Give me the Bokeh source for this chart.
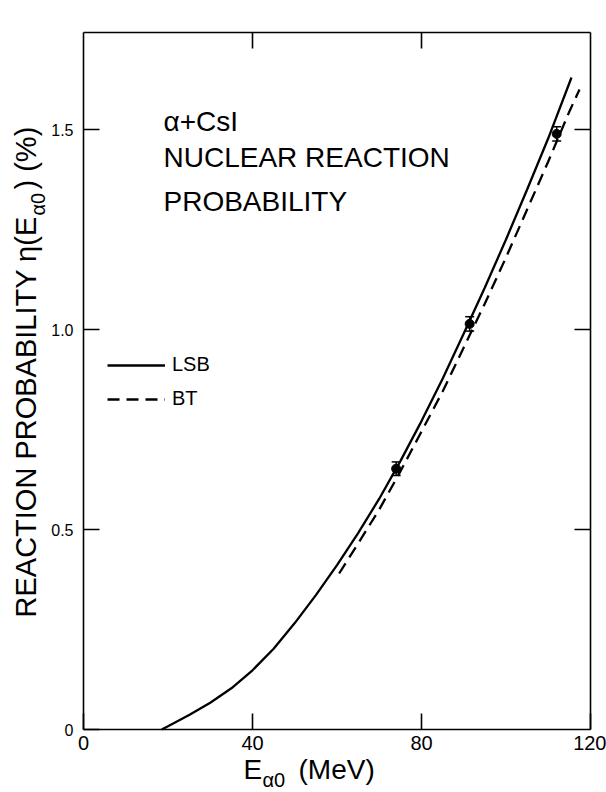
from bokeh.plotting import figure
from bokeh.models import (Range1d, LinearAxis, FixedTicker, Label, Legend, LegendItem,
                          Whisker, TeeHead, ColumnDataSource)
from bokeh.embed import file_html
from bokeh.resources import INLINE

# ---------------- data ----------------
lsb_x = [18.5, 20, 25, 30, 35, 40, 45, 50, 55, 60, 65, 70, 75, 80, 85, 90, 95, 100, 105, 110, 115.5]
lsb_y = [0.0, 0.008, 0.036, 0.067, 0.103, 0.148, 0.202, 0.266, 0.336, 0.411, 0.491, 0.577, 0.671,
         0.771, 0.877, 0.99, 1.105, 1.225, 1.35, 1.478, 1.63]
bt_x = [60.5, 65, 70, 75, 80, 85, 90, 95, 100, 105, 110, 115, 117.4]
bt_y = [0.39, 0.465, 0.55, 0.645, 0.745, 0.845, 0.955, 1.065, 1.18, 1.30, 1.42, 1.545, 1.60]
exp_x = [74.0, 91.4, 112.0]
exp_y = [0.652, 1.014, 1.489]
exp_err = [0.017, 0.018, 0.018]

x_ticks = [0, 40, 80, 120]
x_inner_ticks = [40, 80]
y_ticks = [0, 0.5, 1.0, 1.5]
y_tick_labels = ["0", "0.5", "1.0", "1.5"]
y_inner_ticks = [0.5, 1.0, 1.5]

XMAX = 120

# page geometry (px) of the plotting box; the canvas covers the whole page
W, H = 606, 792
FL, FR, FT, FB = 83, 590, 32, 729
PX_PER_X = (FR - FL) / XMAX
PX_PER_Y = 400.0
FONT = "Liberation Sans"


def dx(px):
    return (px - FL) / PX_PER_X


def dy(py):
    return (FB - py) / PX_PER_Y


YMAX = dy(FT)

p = figure(width=W, height=H, x_range=Range1d(dx(0), dx(W)), y_range=Range1d(dy(H), dy(0)),
           output_backend="svg", toolbar_location=None, x_axis_location=None,
           y_axis_location=None, min_border=0)
p.grid.visible = False
p.outline_line_color = None
p.background_fill_color = "white"
p.border_fill_color = "white"


def make_axis(ticks, loc, bounds, labels=True, size="20px", standoff=6):
    ax = LinearAxis(fixed_location=loc, bounds=bounds)
    ax.ticker = FixedTicker(ticks=ticks)
    ax.axis_line_color = "black"
    ax.axis_line_width = 1.6
    ax.major_tick_line_color = "black"
    ax.major_tick_line_width = 1.6
    ax.major_tick_in = 16
    ax.major_tick_out = 0
    ax.minor_tick_line_color = None
    ax.major_label_text_font = FONT
    ax.major_label_text_font_size = size
    ax.major_label_standoff = standoff
    ax.major_label_text_color = "black" if labels else None
    return ax


bottom = make_axis(x_ticks, 0, (0, XMAX), True, "20px", 6)
p.add_layout(bottom, "below")

top = make_axis(x_inner_ticks, YMAX, (0, XMAX), False)
p.add_layout(top, "above")

left = make_axis(y_ticks, 0, (0, YMAX), True, "16px", 10)
left.major_label_overrides = {t: s for t, s in zip(y_ticks, y_tick_labels)}
p.add_layout(left, "left")

right = make_axis(y_inner_ticks, XMAX, (0, YMAX), False)
p.add_layout(right, "right")

# curves
r_lsb = p.line(lsb_x, lsb_y, line_color="black", line_width=2.3)
r_bt = p.line(bt_x, bt_y, line_color="black", line_width=2.3, line_dash="12 7")

# experimental points with error bars
src = ColumnDataSource(data=dict(
    x=exp_x, y=exp_y,
    lower=[v - e for v, e in zip(exp_y, exp_err)],
    upper=[v + e for v, e in zip(exp_y, exp_err)]))
p.add_layout(Whisker(base="x", lower="lower", upper="upper", source=src,
                     line_color="black", line_width=1.5,
                     upper_head=TeeHead(size=9, line_width=1.5, line_color="black"),
                     lower_head=TeeHead(size=9, line_width=1.5, line_color="black")))
p.scatter("x", "y", source=src, size=9, color="black")

# legend
legend = Legend(items=[LegendItem(label="LSB", renderers=[r_lsb]),
                       LegendItem(label="BT", renderers=[r_bt])],
                location=(107, H - 410), padding=0, margin=0, spacing=11,
                glyph_width=58, glyph_height=20, label_height=20, label_standoff=7,
                label_text_font=FONT, label_text_font_size="20px", label_text_color="black",
                border_line_color=None, background_fill_alpha=0)
p.add_layout(legend)


def add_text(px, py, txt, size, angle=0):
    p.add_layout(Label(x=dx(px), y=dy(py), text=txt, text_font=FONT, text_font_size=size,
                       text_color="black", text_baseline="middle", text_align="left",
                       angle=angle, angle_units="deg"))


# annotation text in the plot (y = vertical centre of the capitals)
add_text(163, 121, "\u03b1+CsI", "28px")
add_text(163, 157, "NUCLEAR REACTION", "28px")
add_text(163, 201, "PROBABILITY", "28px")

# x-axis label: E_{α0} (MeV)
add_text(243, 769, "E", "28px")
add_text(262, 779, "\u03b10", "20px")
add_text(298, 769, "(MeV)", "28px")

# y-axis label: REACTION PROBABILITY η(E_{α0}) (%)
add_text(25, 617, "REACTION PROBABILITY \u03b7(E", "29px", 90)
add_text(37, 215, "\u03b10", "20px", 90)
add_text(25, 189, ") (%)", "29px", 90)

open("out.html", "w").write(file_html(p, INLINE))
